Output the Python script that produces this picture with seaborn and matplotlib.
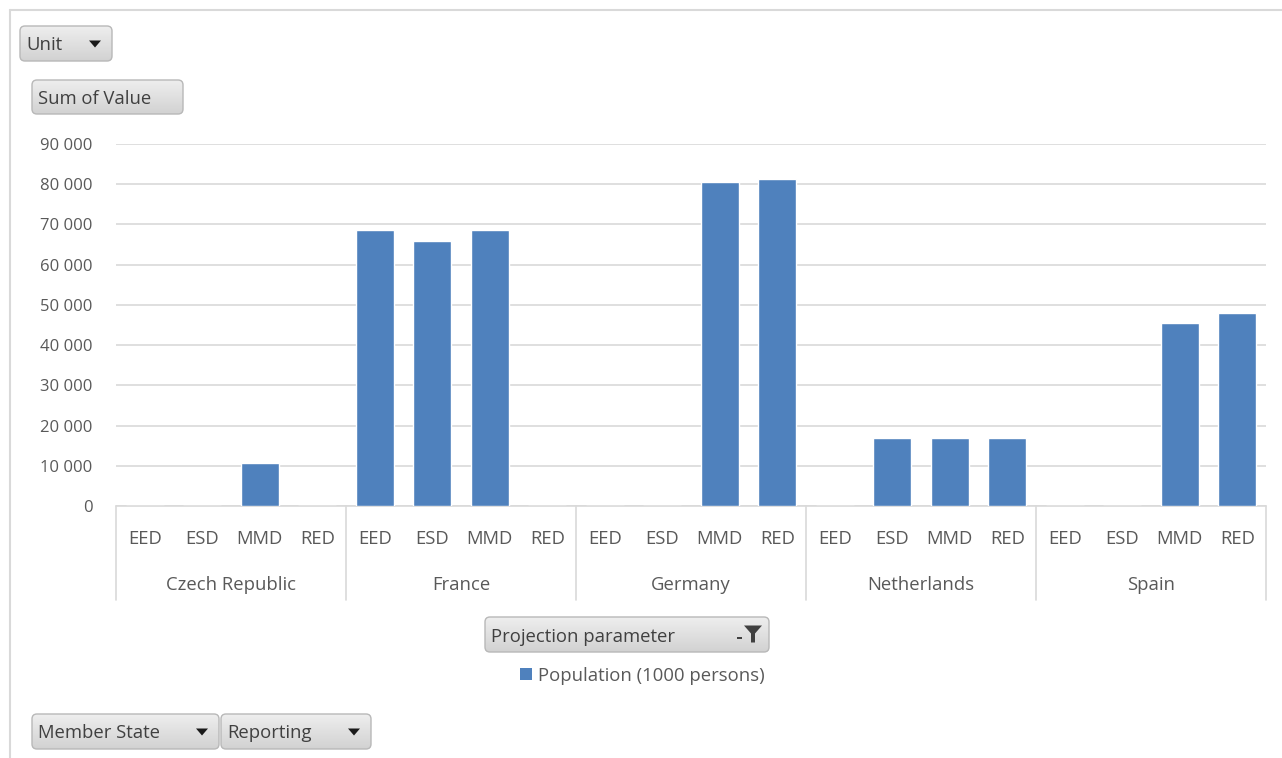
import numpy as np
import pandas as pd
import matplotlib
matplotlib.use("Agg")
import matplotlib.pyplot as plt
import seaborn as sns
from matplotlib.patches import FancyBboxPatch, Polygon, Rectangle
from matplotlib.lines import Line2D
from matplotlib.ticker import FuncFormatter

# ---- data: population (1000 persons) by member state and reporting obligation
member_states = ["Czech Republic", "France", "Germany", "Netherlands", "Spain"]
reporting = ["EED", "ESD", "MMD", "RED"]
czech_republic = [0, 0, 10600, 0]
france = [68700, 65900, 68700, 0]
germany = [0, 0, 80600, 81400]
netherlands = [0, 16900, 16900, 16900]
spain = [0, 0, 45600, 47900]
y_ticks = [0, 10000, 20000, 30000, 40000, 50000, 60000, 70000, 80000, 90000]
series_name = "Population (1000 persons)"

values_by_state = [czech_republic, france, germany, netherlands, spain]
rows = []
for state, vals in zip(member_states, values_by_state):
    for rep, v in zip(reporting, vals):
        rows.append({"slot": f"{state}|{rep}", "state": state, "reporting": rep, "value": v})
df = pd.DataFrame(rows)
slots = list(df["slot"])

W, H, DPI = 1282, 758, 100
BAR = "#4F81BD"
TXT = "#595959"
GRID = "#D9D9D9"
FONT = "Open Sans"
FS = 13.3

sns.set_theme(style="white")
plt.rcParams["font.family"] = [FONT, "DejaVu Sans"]

fig = plt.figure(figsize=(W / DPI, H / DPI), dpi=DPI)
fig.patch.set_facecolor("white")

# plot area in pixels
L, R, T, B = 116, 1266, 144, 506
ax = fig.add_axes([L / W, 1 - B / H, (R - L) / W, (B - T) / H])

sns.barplot(data=df, x="slot", y="value", order=slots, color=BAR,
            saturation=1, width=0.66, errorbar=None, ax=ax, zorder=3)

ax.set_xlim(-0.5, len(slots) - 0.5)
ax.set_ylim(0, 90000)
ax.set_yticks(y_ticks)
ax.yaxis.set_major_formatter(FuncFormatter(lambda v, p: f"{int(v):,}".replace(",", " ")))
ax.tick_params(axis="y", length=0, pad=17, labelsize=12, labelcolor=TXT)
ax.set_xticks([])
ax.set_xlabel("")
ax.set_ylabel("")
for s in ax.spines.values():
    s.set_visible(False)
ax.grid(axis="y", color=GRID, linewidth=1.2, zorder=0)
ax.set_axisbelow(True)

# category axis: reporting labels, member state labels and separators
xt = ax.get_xaxis_transform()
ph = B - T
ax.add_line(Line2D([-0.5, len(slots) - 0.5], [0, 0], transform=xt, color=GRID,
                   lw=1.2, clip_on=False, zorder=2))
for i, s in enumerate(slots):
    rep = df.loc[i, "reporting"]
    ax.text(i, -33 / ph, rep, transform=xt, ha="center", va="center",
            fontsize=FS, color=TXT)
for g, state in enumerate(member_states):
    centre = g * 4 + 1.5
    ax.text(centre, -79 / ph, state, transform=xt, ha="center", va="center",
            fontsize=FS, color=TXT)
for g in range(len(member_states) + 1):
    xb = g * 4 - 0.5
    ax.add_line(Line2D([xb, xb], [0, -94 / ph], transform=xt, color=GRID,
                       lw=1.2, clip_on=False))

# overlay in pixel coordinates for the frame, field buttons and legend
ov = fig.add_axes([0, 0, 1, 1], zorder=5)
ov.set_xlim(0, W)
ov.set_ylim(H, 0)
ov.axis("off")
ov.patch.set_alpha(0)

ov.add_line(Line2D([10, W], [10, 10], color=GRID, lw=1.5))
ov.add_line(Line2D([10, 10], [10, H], color=GRID, lw=1.5))

grad = np.linspace(0, 1, 64).reshape(-1, 1)
cmap = matplotlib.colors.LinearSegmentedColormap.from_list("btn", ["#eeeeee", "#d2d2d2"])


def button(x0, y0, x1, y1, label, icon=None):
    patch = FancyBboxPatch((x0, y0), x1 - x0, y1 - y0,
                           boxstyle="round,pad=0,rounding_size=5",
                           facecolor="none", edgecolor="#b8b8b8", lw=1.0, zorder=6)
    ov.add_patch(patch)
    im = ov.imshow(grad, extent=(x0, x1, y1, y0), cmap=cmap, aspect="auto", zorder=5)
    im.set_clip_path(patch)
    ov.text(x0 + 6, (y0 + y1) / 2 + 2, label, ha="left", va="center",
            fontsize=FS, color="#404040", zorder=7)
    if icon == "arrow":
        cx, cy = x1 - 17, (y0 + y1) / 2
        ov.add_patch(Polygon([[cx - 6, cy - 3], [cx + 6, cy - 3], [cx, cy + 4]],
                             closed=True, facecolor="#1a1a1a", edgecolor="none", zorder=7))
    elif icon == "filter":
        cx, cy = x1 - 17, (y0 + y1) / 2
        ov.add_patch(Polygon([[cx - 8, cy - 9], [cx + 10, cy - 9], [cx + 3, cy - 1],
                              [cx + 3, cy + 8], [cx - 1, cy + 8], [cx - 1, cy - 1]],
                             closed=True, facecolor="#404040", edgecolor="none", zorder=7))
        ov.add_patch(Rectangle((cx - 15, cy + 2), 5, 2, facecolor="#404040",
                               edgecolor="none", zorder=7))


button(20, 26, 112, 61, "Unit", "arrow")
button(32, 80, 183, 114, "Sum of Value")
button(485, 617, 769, 652, "Projection parameter", "filter")
button(32, 714, 219, 749, "Member State", "arrow")
button(221, 714, 371, 749, "Reporting", "arrow")

# legend
ov.add_patch(Rectangle((520, 668), 12, 12, facecolor=BAR, edgecolor="none", zorder=6))
ov.text(538, 676, series_name, ha="left", va="center", fontsize=FS, color=TXT, zorder=6)

fig.savefig("out.png", dpi=DPI, facecolor="white")
